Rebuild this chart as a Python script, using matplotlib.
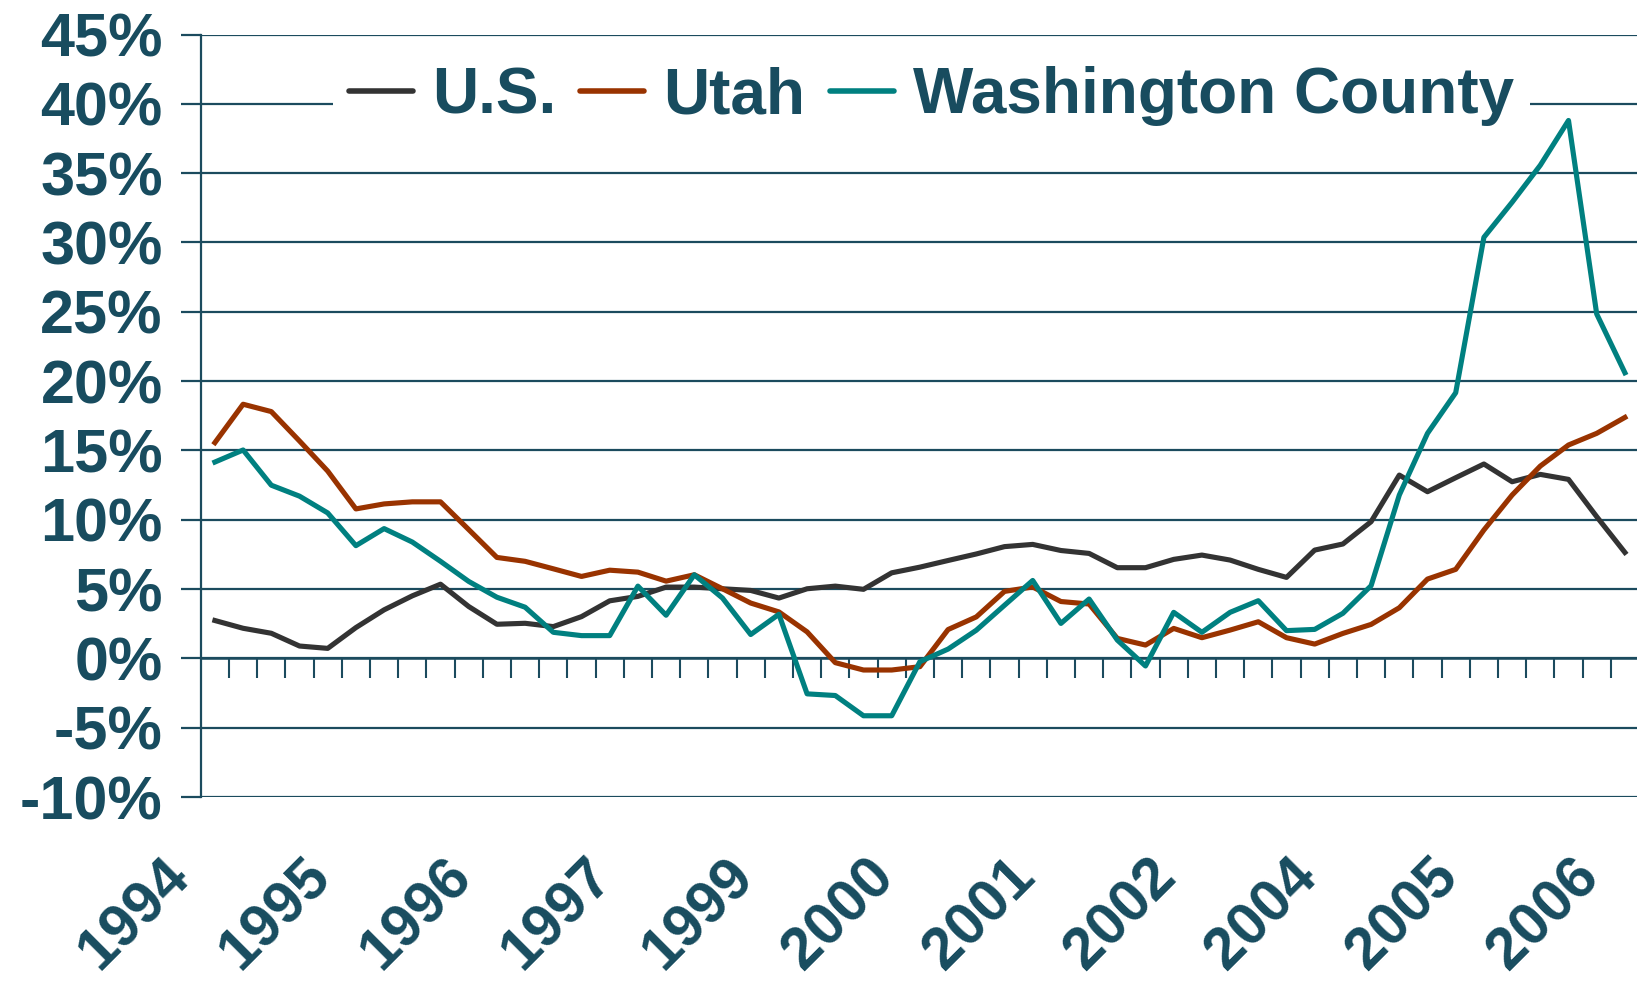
import numpy as np
import matplotlib.pyplot as plt
from matplotlib.transforms import ScaledTranslation

# dados trimestrais 1994T1 - 2006T3 (variacao anual, %)
us = [2.73, 2.17, 1.81, 0.89, 0.72, 2.22, 3.50, 4.51, 5.35, 3.74,
      2.46, 2.53, 2.29, 3.01, 4.15, 4.47, 5.14, 5.14, 5.02, 4.90,
      4.35, 5.02, 5.21, 4.98, 6.17, 6.58, 7.06, 7.53, 8.06, 8.22,
      7.78, 7.57, 6.54, 6.54, 7.14, 7.45, 7.09, 6.42, 5.84, 7.81,
      8.25, 9.86, 13.22, 12.02, 13.03, 14.02, 12.74, 13.27, 12.91, 10.22, 7.64]
utah = [15.56, 18.33, 17.80, 15.68, 13.51, 10.78, 11.14, 11.29, 11.29, 9.29,
        7.28, 7.00, 6.46, 5.91, 6.36, 6.22, 5.57, 6.03, 5.02, 3.99,
        3.35, 1.91, -0.31, -0.84, -0.84, -0.60, 2.08, 2.99, 4.83, 5.15,
        4.10, 3.92, 1.44, 0.96, 2.16, 1.49, 2.04, 2.64, 1.49, 1.03,
        1.80, 2.45, 3.65, 5.72, 6.42, 9.26, 11.78, 13.87, 15.39, 16.23, 17.38]
washington = [14.16, 15.03, 12.49, 11.70, 10.49, 8.13, 9.36, 8.39, 7.00, 5.55,
              4.41, 3.69, 1.88, 1.64, 1.64, 5.21, 3.11, 6.03, 4.35, 1.72,
              3.18, -2.56, -2.68, -4.14, -4.14, -0.24, 0.67, 2.03, 3.83, 5.62,
              2.52, 4.28, 1.32, -0.55, 3.32, 1.88, 3.32, 4.16, 2.00, 2.09,
              3.25, 5.24, 11.78, 16.23, 19.16, 30.37, 32.90, 35.57, 38.80, 24.84, 20.60]
series_names = ['U.S.', 'Utah', 'Washington County']
series_colors = ['#333333', '#993300', '#008080']
year_labels = ['1994', '1995', '1996', '1997', '1999', '2000',
               '2001', '2002', '2004', '2005', '2006']
label_step = 5

axis_col = '#1b4b5e'
text_col = '#184c5f'
plt.rcParams['font.family'] = ['Liberation Sans', 'DejaVu Sans']
plt.rcParams['font.weight'] = 'bold'

x = np.arange(len(us))

fig = plt.figure(figsize=(16.37, 9.9), dpi=100)
ax = fig.add_axes([200.8 / 1637, 1 - 797 / 990, 28.2 * 51 / 1637, (797 - 34.5) / 990])

for vals, name, col in zip([us, utah, washington], series_names, series_colors):
    ax.plot(x, vals, color=col, lw=3.7, label=name, zorder=3)

ax.set_xlim(-0.5, len(us) - 0.5)
ax.set_ylim(-10, 45)
ax.set_yticks(np.arange(-10, 46, 5))
ax.yaxis.set_major_formatter(lambda v, p: f'{v:.0f}%')
ax.grid(axis='y', color=axis_col, lw=1.6, zorder=1)
ax.set_axisbelow(True)

for s in ['top', 'right']:
    ax.spines[s].set_visible(False)
ax.spines['left'].set_color(axis_col)
ax.spines['left'].set_linewidth(1.6)
ax.spines['bottom'].set_position(('data', 0))
ax.spines['bottom'].set_color(axis_col)
ax.spines['bottom'].set_linewidth(1.8)

ax.tick_params(axis='y', length=14.4, width=1.6, color=axis_col, pad=13,
               labelsize=44, labelcolor=text_col)

ax.set_xticks(x[::label_step])
ax.set_xticklabels(year_labels, rotation=45, ha='right')
ax.set_xticks(x[:-1] + 0.5, minor=True)
ax.tick_params(axis='x', which='major', length=0, pad=137, labelsize=42.5, labelcolor=text_col)
ax.tick_params(axis='x', which='minor', length=14.4, width=1.5, color=axis_col, direction='out')
shift = ScaledTranslation(-15 / 100, 0, fig.dpi_scale_trans)
for lab in ax.get_xticklabels():
    lab.set_transform(lab.get_transform() + shift)

leg = ax.legend(loc='center', bbox_to_anchor=(0.569, 0.903), bbox_transform=fig.transFigure,
                ncol=3, frameon=True, facecolor='white', edgecolor='none', framealpha=1,
                fancybox=False, prop={'size': 46, 'weight': 'bold'}, labelcolor=text_col,
                handlelength=1.0, handletextpad=0.3, columnspacing=0.38, borderpad=0.25)
for l in leg.get_lines():
    l.set_solid_capstyle('round')
    l.set_linewidth(4)

fig.savefig('out.png', dpi=100)
